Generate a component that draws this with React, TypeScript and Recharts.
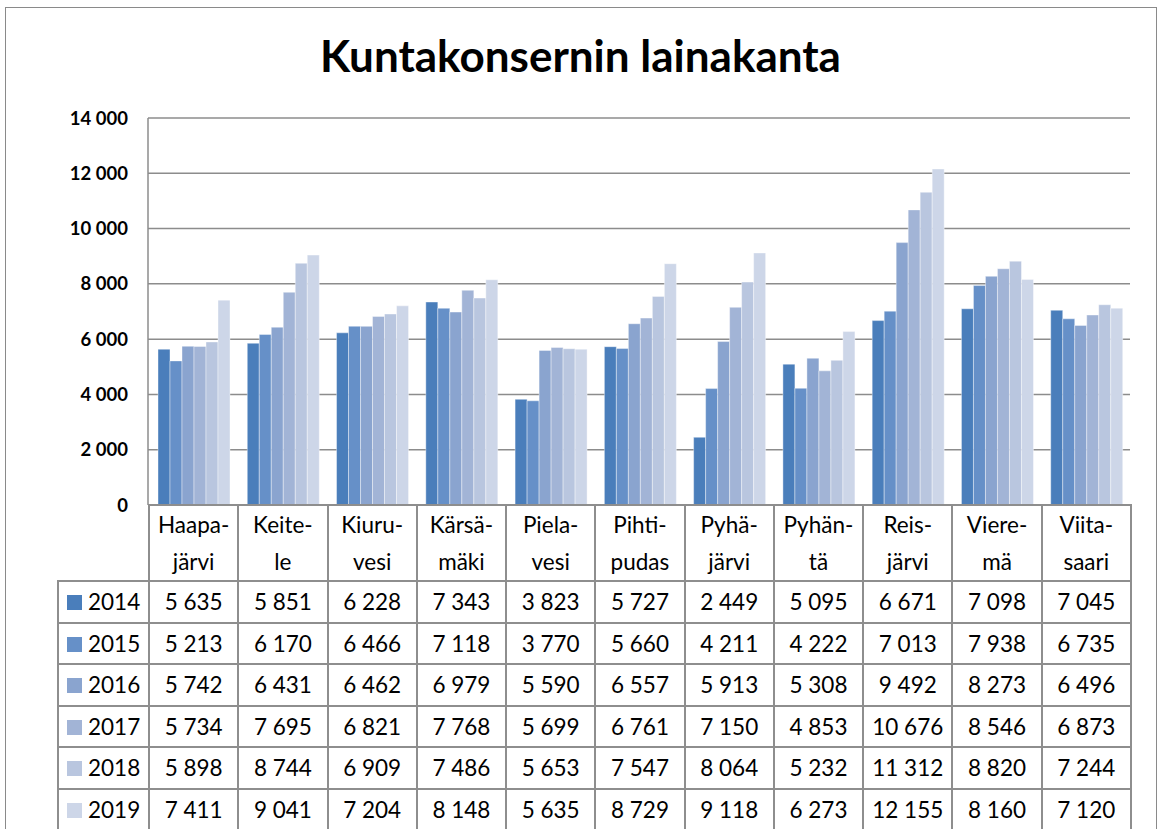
import { BarChart, Bar, XAxis, YAxis, CartesianGrid } from 'recharts';

const MUNICIPALITIES = [
  'Haapa-|järvi', 'Keite-|le', 'Kiuru-|vesi', 'Kärsä-|mäki', 'Piela-|vesi', 'Pihti-|pudas',
  'Pyhä-|järvi', 'Pyhän-|tä', 'Reis-|järvi', 'Viere-|mä', 'Viita-|saari',
];

const YEARS = ['2014', '2015', '2016', '2017', '2018', '2019'];

const V2014 = [5635, 5851, 6228, 7343, 3823, 5727, 2449, 5095, 6671, 7098, 7045];
const V2015 = [5213, 6170, 6466, 7118, 3770, 5660, 4211, 4222, 7013, 7938, 6735];
const V2016 = [5742, 6431, 6462, 6979, 5590, 6557, 5913, 5308, 9492, 8273, 6496];
const V2017 = [5734, 7695, 6821, 7768, 5699, 6761, 7150, 4853, 10676, 8546, 6873];
const V2018 = [5898, 8744, 6909, 7486, 5653, 7547, 8064, 5232, 11312, 8820, 7244];
const V2019 = [7411, 9041, 7204, 8148, 5635, 8729, 9118, 6273, 12155, 8160, 7120];

const Y_TICKS = [0, 2000, 4000, 6000, 8000, 10000, 12000, 14000];

const SERIES = [V2014, V2015, V2016, V2017, V2018, V2019];
const COLORS = ['#4a7ebb', '#6690c8', '#8aa4cf', '#a2b4d6', '#b9c6df', '#cdd6e8'];

const fmt = (v: number) => String(v).replace(/\B(?=(\d{3})+(?!\d))/g, ' ');

const data = MUNICIPALITIES.map((name, i) => {
  const row: Record<string, number | string> = { name };
  YEARS.forEach((y, s) => {
    row[y] = SERIES[s][i];
  });
  return row;
});

const FONT = 'Lato, "Open Sans", sans-serif';
const BORDER = '2px solid #8e8e8e';
const COL_W = 982 / 11;

export default function App() {
  return (
    <div style={{ position: 'absolute', left: 0, top: 0, width: 1161, height: 829, overflow: 'hidden', background: '#fff', fontFamily: FONT }}>
      <div style={{ position: 'absolute', left: 5, top: 7, width: 1150, height: 900, border: '1.5px solid #8a8a8a' }} />
      <div style={{ position: 'absolute', left: 0, top: 29, width: 1161, textAlign: 'center', fontSize: 44, fontWeight: 700, color: '#000' }}>
        Kuntakonsernin lainakanta
      </div>
      <div style={{ position: 'absolute', left: 0, top: 0 }}>
        <BarChart
          width={1161}
          height={522}
          data={data}
          margin={{ top: 118, right: 31, left: 88, bottom: 17 }}
          barCategoryGap={10}
          barGap={0}
        >
          <CartesianGrid vertical={false} stroke="#8c8c8c" strokeWidth={1.5} />
          <XAxis dataKey="name" hide />
          <YAxis
            width={60}
            domain={[0, 14000]}
            ticks={Y_TICKS}
            interval={0}
            tickFormatter={fmt}
            axisLine={{ stroke: '#8c8c8c', strokeWidth: 1.5 }}
            tickLine={false}
            tickSize={0}
            tickMargin={20}
            tick={{ fill: '#000', fontSize: 18.5, fontWeight: 700, fontFamily: FONT }}
          />
          {YEARS.map((y, s) => (
            <Bar key={y} dataKey={y} fill={COLORS[s]} stroke="#ffffff" strokeWidth={0.4} isAnimationActive={false} />
          ))}
        </BarChart>
      </div>
      <table
        style={{
          position: 'absolute', left: 57, top: 504, width: 91 + 982, borderCollapse: 'collapse', tableLayout: 'fixed',
          fontSize: 22.5, color: '#000', fontFamily: FONT,
        }}
      >
        <colgroup>
          <col style={{ width: 91 }} />
          {MUNICIPALITIES.map((m) => (
            <col key={m} style={{ width: COL_W }} />
          ))}
        </colgroup>
        <tbody>
          <tr style={{ height: 73 }}>
            <td style={{ borderBottom: BORDER, padding: 0 }} />
            {MUNICIPALITIES.map((m) => (
              <td key={m} style={{ border: BORDER, textAlign: 'center', padding: 0, lineHeight: '37px', background: '#fff' }}>
                {m.split('|').map((part) => (
                  <div key={part}>{part}</div>
                ))}
              </td>
            ))}
          </tr>
          {YEARS.map((y, s) => (
            <tr key={y} style={{ height: 41.5 }}>
              <td style={{ border: BORDER, padding: '0 0 0 8px', whiteSpace: 'nowrap' }}>
                <span style={{ display: 'inline-block', width: 15, height: 15, background: COLORS[s], marginRight: 6 }} />
                {y}
              </td>
              {SERIES[s].map((v, i) => (
                <td key={i} style={{ border: BORDER, textAlign: 'center', padding: 0 }}>
                  {fmt(v)}
                </td>
              ))}
            </tr>
          ))}
        </tbody>
      </table>
    </div>
  );
}
